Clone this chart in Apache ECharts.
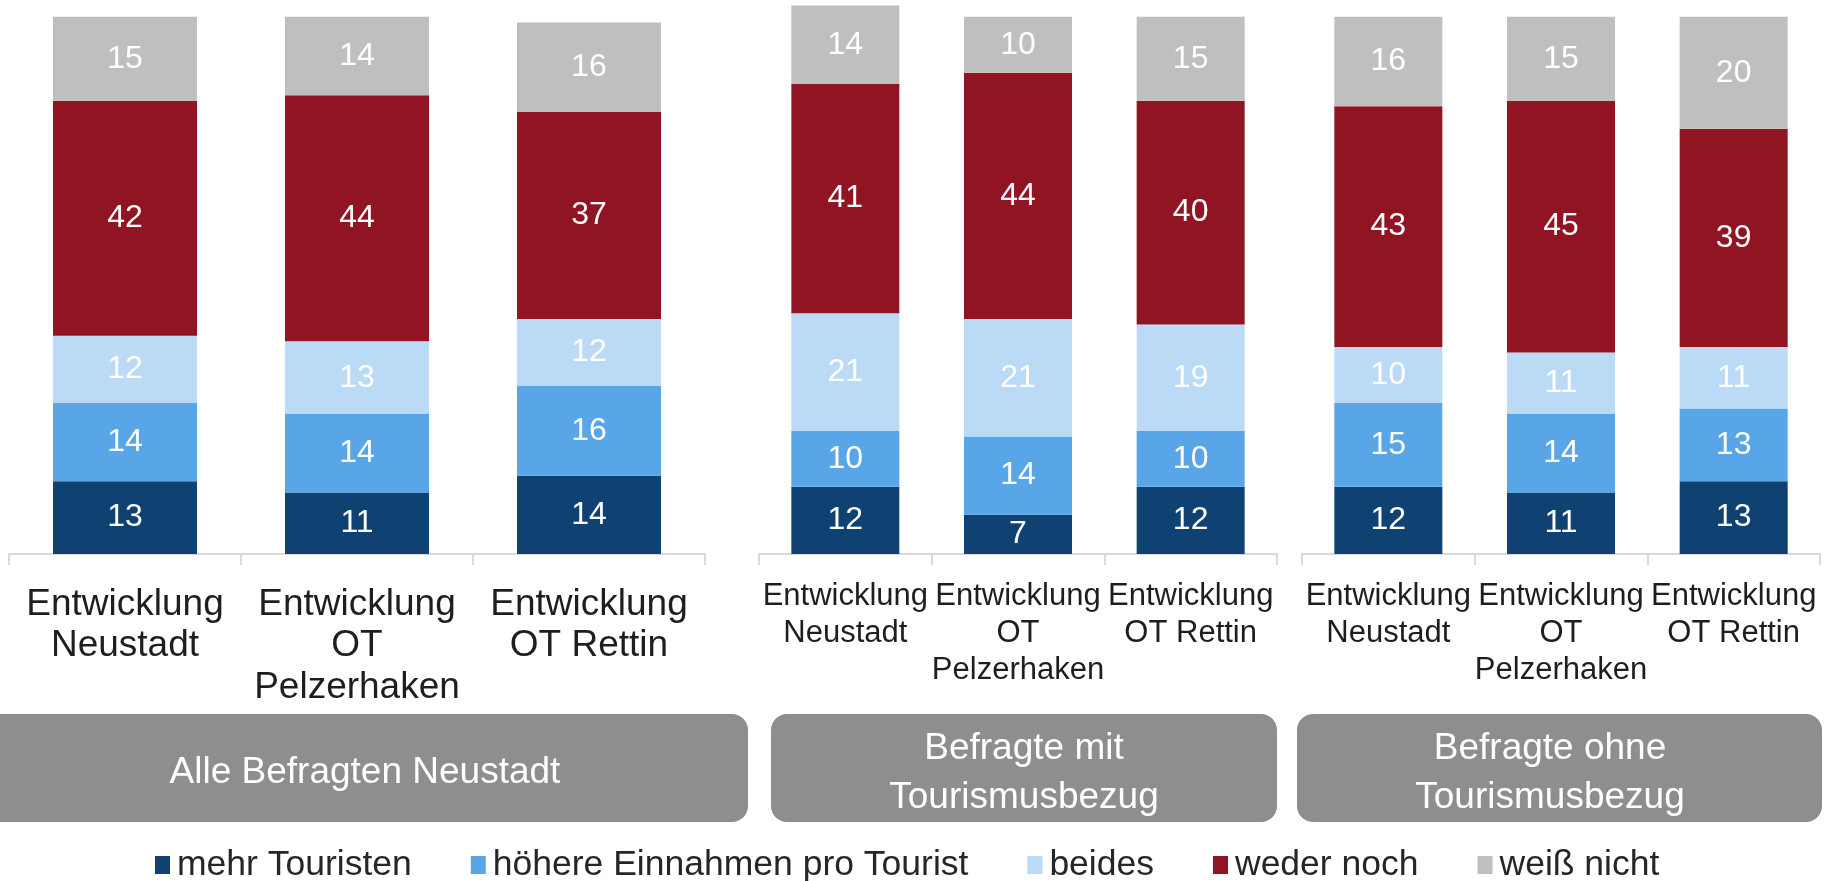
<!DOCTYPE html>
<html>
<head>
<meta charset="utf-8">
<script src="https://cdn.jsdelivr.net/npm/echarts@6/dist/echarts.min.js"></script>
<style>
  html, body { margin: 0; padding: 0; background: #fff; }
  #chart { width: 1825px; height: 881px; }
</style>
</head>
<body>
<div id="chart"></div>
<script>
// categories (same for all three groups)
var categoriesWide = ['Entwicklung\nNeustadt', 'Entwicklung\nOT\nPelzerhaken', 'Entwicklung\nOT Rettin'];
var categoriesNarrow = ['Entwicklung\nNeustadt', 'Entwicklung\nOT\nPelzerhaken', 'Entwicklung\nOT Rettin'];

var seriesNames = ['mehr Touristen', 'höhere Einnahmen pro Tourist', 'beides', 'weder noch', 'weiß nicht'];
var seriesColors = ['#0f4273', '#58a6e8', '#bbdaf6', '#911423', '#bfbfbf'];

// rows follow seriesNames, columns follow categories
var alleBefragten = [
  [13, 11, 14],
  [14, 14, 16],
  [12, 13, 12],
  [42, 44, 37],
  [15, 14, 16]
];
var mitTourismus = [
  [12, 7, 12],
  [10, 14, 10],
  [21, 21, 19],
  [41, 44, 40],
  [14, 10, 15]
];
var ohneTourismus = [
  [12, 11, 13],
  [15, 14, 13],
  [10, 11, 11],
  [43, 45, 39],
  [16, 15, 20]
];

var groupTitles = ['Alle Befragten Neustadt', 'Befragte mit\nTourismusbezug', 'Befragte ohne\nTourismusbezug'];

var FONT = '"Liberation Sans", Arial, sans-serif';

var panels = [
  { data: alleBefragten, cats: categoriesWide, left: 9, width: 696, barWidth: 144, fontSize: 37, lineHeight: 41.5, margin: 30 },
  { data: mitTourismus, cats: categoriesNarrow, left: 759, width: 518, barWidth: 108, fontSize: 31, lineHeight: 37, margin: 24 },
  { data: ohneTourismus, cats: categoriesNarrow, left: 1302, width: 518, barWidth: 108, fontSize: 31, lineHeight: 37, margin: 24 }
];

var grids = [], xAxes = [], yAxes = [], series = [];

panels.forEach(function (p, pi) {
  grids.push({ left: p.left, width: p.width, top: 0, height: 554 });
  xAxes.push({
    type: 'category',
    gridIndex: pi,
    data: p.cats,
    axisLine: { lineStyle: { color: '#d9d9d9', width: 2 } },
    axisTick: { show: true, interval: 0, length: 11, lineStyle: { color: '#d9d9d9', width: 2 } },
    axisLabel: {
      interval: 0,
      margin: p.margin,
      color: '#1e1e1e',
      fontFamily: FONT,
      fontSize: p.fontSize,
      lineHeight: p.lineHeight
    }
  });
  yAxes.push({ type: 'value', gridIndex: pi, min: 0, max: 99, show: false, splitLine: { show: false } });

  p.data.forEach(function (vals, si) {
    series.push({
      type: 'bar',
      name: seriesNames[si],
      xAxisIndex: pi,
      yAxisIndex: pi,
      stack: 'g' + pi,
      barWidth: p.barWidth,
      data: vals,
      itemStyle: { color: seriesColors[si] },
      label: {
        show: true,
        position: 'inside',
        color: '#fff',
        fontFamily: FONT,
        fontSize: 32
      }
    });
  });
});

// grey group boxes under the axes
var boxes = [
  { x: -20, w: 768, cx: 365 },
  { x: 771, w: 506, cx: 1024 },
  { x: 1297, w: 525, cx: 1550 }
];
var graphics = [];
boxes.forEach(function (b, i) {
  graphics.push({
    type: 'rect',
    shape: { x: b.x, y: 714, width: b.w, height: 108, r: 16 },
    style: { fill: '#8e8e8e' },
    silent: true
  });
  graphics.push({
    type: 'text',
    x: b.cx,
    y: 773,
    style: {
      text: groupTitles[i],
      fill: '#fff',
      font: '37px ' + FONT,
      lineHeight: 49,
      align: 'center',
      verticalAlign: 'middle'
    },
    silent: true
  });
});

var chart = echarts.init(document.getElementById('chart'));
chart.setOption({
  animation: false,
  color: seriesColors,
  grid: grids,
  xAxis: xAxes,
  yAxis: yAxes,
  legend: {
    data: seriesNames,
    left: 150,
    top: 842,
    icon: 'rect',
    itemWidth: 15,
    itemHeight: 18,
    itemGap: 59,
    textStyle: { color: '#262626', fontFamily: FONT, fontSize: 35.5, padding: [0, 0, 0, 2] }
  },
  graphic: graphics,
  series: series
});
</script>
</body>
</html>
